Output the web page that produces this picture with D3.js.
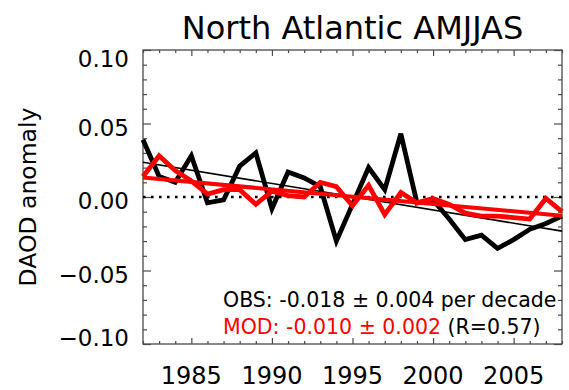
<!DOCTYPE html>
<html>
<head>
<meta charset="utf-8">
<script src="https://cdn.jsdelivr.net/npm/d3@7"></script>
<style>
  html, body { margin: 0; padding: 0; background: #fff; }
  svg { display: block; font-family: "DejaVu Sans", sans-serif; }
</style>
</head>
<body>
<svg id="chart" width="569" height="390"></svg>
<script>
// Dust aerosol optical depth anomalies, April-September, North Atlantic
const years = d3.range(1982, 2009);
const obs = [0.039, 0.014, 0.010, 0.028, -0.004, -0.002, 0.021, 0.030, -0.008,
             0.017, 0.013, 0.007, -0.030, -0.005, 0.020, 0.005, 0.043, -0.004,
             -0.002, -0.015, -0.029, -0.026, -0.035, -0.029, -0.022, -0.018, -0.013];
const mod = [0.014, 0.028, 0.018, 0.011, 0.002, 0.005, 0.005, -0.005, 0.004,
             0.001, 0.000, 0.010, 0.007, -0.006, 0.008, -0.012, 0.003, -0.004,
             -0.001, -0.005, -0.011, -0.013, -0.013, -0.014, -0.015, -0.001, -0.010];
// Linear trends, per decade
const obsTrend = -0.018, obsTrendErr = 0.004;
const modTrend = -0.010, modTrendErr = 0.002;
const corrR = 0.57;

const yMajor = [-0.10, -0.05, 0.00, 0.05, 0.10];
const yMinor = d3.range(-10, 11).map(d => d / 100).filter(v => !yMajor.some(m => Math.abs(m - v) < 1e-9));
const xMajor = [1985, 1990, 1995, 2000, 2005];
const xMinor = years.filter(y => !xMajor.includes(y));

const title = "North Atlantic AMJJAS";
const yTitle = "DAOD anomaly";

const svg = d3.select("#chart");
const m = { left: 143, right: 7, top: 50, bottom: 46 };
const W = 569, H = 390;
const x = d3.scaleLinear().domain([1982, 2008]).range([m.left, W - m.right]);
const y = d3.scaleLinear().domain([-0.10, 0.10]).range([H - m.bottom, m.top]);

const frameColor = "#4a4a4a";

// Axes: ticks point inward on all four sides
function styleAxis(g) {
  g.select(".domain").remove();
  g.selectAll(".tick line").attr("stroke", frameColor).attr("stroke-width", 1.2);
  g.selectAll(".tick text").remove();
}
svg.append("g").attr("transform", `translate(${m.left},0)`)
  .call(d3.axisLeft(y).tickValues(yMajor).tickSize(-8)).call(styleAxis);
svg.append("g").attr("transform", `translate(${m.left},0)`)
  .call(d3.axisLeft(y).tickValues(yMinor).tickSize(-4)).call(styleAxis);
svg.append("g").attr("transform", `translate(${W - m.right},0)`)
  .call(d3.axisRight(y).tickValues(yMajor).tickSize(-8)).call(styleAxis);
svg.append("g").attr("transform", `translate(${W - m.right},0)`)
  .call(d3.axisRight(y).tickValues(yMinor).tickSize(-4)).call(styleAxis);
svg.append("g").attr("transform", `translate(0,${H - m.bottom})`)
  .call(d3.axisBottom(x).tickValues(xMajor).tickSize(-6)).call(styleAxis);
svg.append("g").attr("transform", `translate(0,${H - m.bottom})`)
  .call(d3.axisBottom(x).tickValues(xMinor).tickSize(-3)).call(styleAxis);
svg.append("g").attr("transform", `translate(0,${m.top})`)
  .call(d3.axisTop(x).tickValues(xMajor).tickSize(-6)).call(styleAxis);
svg.append("g").attr("transform", `translate(0,${m.top})`)
  .call(d3.axisTop(x).tickValues(xMinor).tickSize(-3)).call(styleAxis);

// Frame
svg.append("rect")
  .attr("x", m.left).attr("y", m.top)
  .attr("width", W - m.left - m.right).attr("height", H - m.top - m.bottom)
  .attr("fill", "none").attr("stroke", frameColor).attr("stroke-width", 1.3);

// Tick labels
const fmt = d3.format(".2f");
svg.append("g").selectAll("text").data(yMajor).join("text")
  .attr("x", m.left - 14)
  .attr("y", d => Math.min(Math.max(y(d) + 4, m.top + 9), H - m.bottom - 6))
  .attr("text-anchor", "end").attr("dominant-baseline", "central")
  .attr("font-size", 23).attr("fill", "#000")
  .text(d => fmt(d));
svg.append("g").selectAll("text").data(xMajor).join("text")
  .attr("x", d => x(d)).attr("y", H - 6)
  .attr("text-anchor", "middle")
  .attr("font-size", 24).attr("fill", "#000")
  .text(d => d);

// Title and y-axis title
svg.append("text").attr("x", (m.left + W - m.right) / 2).attr("y", 39)
  .attr("text-anchor", "middle").attr("font-size", 32).text(title);
svg.append("text")
  .attr("transform", `translate(36,${(m.top + H - m.bottom) / 2}) rotate(-90)`)
  .attr("text-anchor", "middle").attr("font-size", 23.5).text(yTitle);

const plot = svg.append("g");

// Zero line
plot.append("line")
  .attr("x1", x(1982)).attr("x2", x(2008))
  .attr("y1", y(0)).attr("y2", y(0))
  .attr("stroke", "#000").attr("stroke-width", 2.6)
  .attr("stroke-dasharray", "2.6,5.4");

const line = d3.line().x((d, i) => x(years[i])).y(d => y(d));

// Trend lines with fixed slope through the series mean
function trend(vals, perDecade) {
  const slope = perDecade / 10;
  const mx = d3.mean(years), my = d3.mean(vals);
  return [1982, 2008].map(t => [t, my + slope * (t - mx)]);
}
const tline = d3.line().x(d => x(d[0])).y(d => y(d[1]));

plot.append("path").datum(obs).attr("d", line)
  .attr("fill", "none").attr("stroke", "#000").attr("stroke-width", 4.8)
  .attr("stroke-linejoin", "miter").attr("stroke-miterlimit", 3);
plot.append("path").datum(trend(obs, obsTrend)).attr("d", tline)
  .attr("fill", "none").attr("stroke", "#000").attr("stroke-width", 1.6);
plot.append("path").datum(mod).attr("d", line)
  .attr("fill", "none").attr("stroke", "#ff0000").attr("stroke-width", 4.8)
  .attr("stroke-linejoin", "miter").attr("stroke-miterlimit", 3);
plot.append("path").datum(trend(mod, modTrend)).attr("d", tline)
  .attr("fill", "none").attr("stroke", "#ff0000").attr("stroke-width", 4);

// Trend annotation
const fmt3 = d3.format(".3f");
const ann = svg.append("g").attr("font-size", 20.5);
ann.append("text").attr("x", 223).attr("y", 307).attr("fill", "#000")
  .text(`OBS: ${fmt3(obsTrend).replace("−", "-")} ± ${fmt3(obsTrendErr)} per decade`);
const t2 = ann.append("text").attr("x", 223).attr("y", 334);
t2.append("tspan").attr("fill", "#ff0000")
  .text(`MOD: ${fmt3(modTrend).replace("−", "-")} ± ${fmt3(modTrendErr)}`);
t2.append("tspan").attr("fill", "#000").text(` (R=${corrR.toFixed(2)})`);
</script>
</body>
</html>
